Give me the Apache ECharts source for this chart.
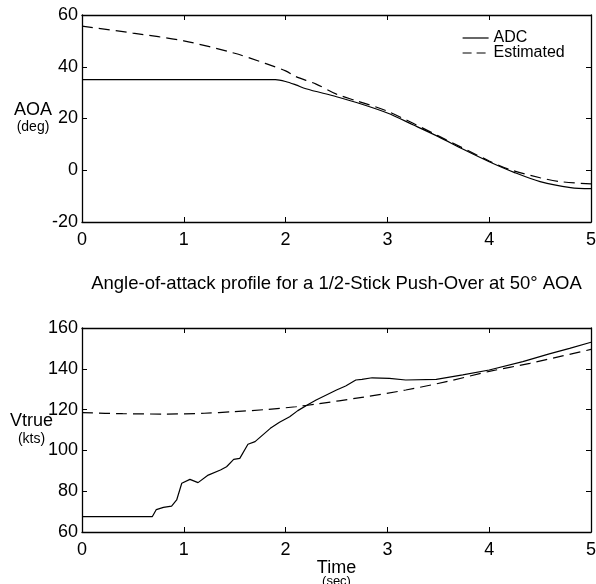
<!DOCTYPE html>
<html>
<head>
<meta charset="utf-8">
<script src="https://cdn.jsdelivr.net/npm/echarts@6/dist/echarts.min.js"></script>
<style>
  html, body { margin: 0; background: #fff; }
  #chart { width: 596px; height: 584px; }
</style>
</head>
<body>
<div id="chart"></div>
<script>
// 上图：攻角 (deg)
const aoaAdcTime = [0, 1.9, 2.0, 2.1, 2.2, 2.5, 2.75, 3.0, 3.25, 3.5, 3.75, 4.0, 4.25, 4.5, 4.8, 5.0]
const aoaAdc = [35, 35, 34.3, 33, 31.5, 28.4, 25.5, 22.1, 17.6, 13, 8, 3.3, -0.9, -4.4, -6.7, -7.1]
const aoaEstTime = [0, 0.5, 1.0, 1.5, 1.8, 2.0, 2.1, 2.3, 2.5, 2.7, 3.0, 3.5, 4.0, 4.2, 4.5, 4.7, 5.0]
const aoaEst = [55.7, 53, 50, 45.2, 41.3, 38.4, 36.2, 33.3, 29.4, 26.8, 22.8, 13.3, 3.6, 0.3, -2.9, -4.4, -5.3]

// 下图：真空速 (kts)
const vAdcTime = [0, 0.69, 0.73, 0.8, 0.88, 0.93, 0.98, 1.06, 1.14, 1.24, 1.36, 1.42, 1.49, 1.55, 1.63, 1.70,
  1.85, 1.94, 2.04, 2.12, 2.23, 2.30, 2.5, 2.59, 2.69, 2.75, 2.85, 3.02, 3.18, 3.48, 3.74, 4.0, 4.33, 4.59, 4.79, 5.0]
const vAdc = [67.5, 67.5, 71, 72.1, 72.7, 75.7, 83.9, 85.8, 84.2, 87.9, 90.4, 92, 95.6, 96.1, 103, 104.3,
  110.8, 113.8, 116.5, 119.5, 122.7, 124.7, 129.6, 131.6, 134.5, 134.8, 135.6, 135.3, 134.5, 134.8, 137, 139.4, 143.5, 147.3, 150, 153]
const vEstTime = [0, 0.4, 0.82, 1.2, 1.49, 1.8, 2.1, 2.3, 2.75, 3.18, 3.58, 4.0, 4.4, 4.72, 5.0]
const vEst = [118.5, 118, 117.8, 118.2, 119, 120, 121.4, 122.7, 126, 129.6, 133.7, 138.7, 142.7, 146.3, 149.5]

const xTicks = [0, 5, 1]
const aoaTicks = [-20, 60, 20]
const vTicks = [60, 160, 20]

const FONT = "'Liberation Sans', Arial, sans-serif"
const DASH = [11, 6]
const zip = (xs, ys) => xs.map((x, i) => [x, ys[i]])

const chart = echarts.init(document.getElementById('chart'))

// 坐标轴公共样式（MATLAB 风格：框线 + 内刻度）
const axisBase = (extra) => Object.assign({
  type: 'value',
  nameMoveOverlap: false,
  axisLine: { show: true, onZero: false, lineStyle: { color: '#000', width: 1.3 } },
  axisTick: { show: true, inside: true, length: 5, lineStyle: { color: '#000', width: 1 } },
  splitLine: { show: false },
  axisLabel: { show: false }
}, extra)

const yLabel = { show: true, color: '#000', fontSize: 18, fontFamily: FONT, margin: 4 }
const xLabel = { show: true, color: '#000', fontSize: 18, fontFamily: FONT, margin: 9 }

const lineSeries = (name, data, xi, yi, dashed, smooth) => ({
  name: name,
  type: 'line',
  xAxisIndex: xi,
  yAxisIndex: yi,
  data: data,
  symbol: 'none',
  smooth: smooth,
  lineStyle: { color: '#000', width: 1.2, type: dashed ? DASH : 'solid' },
  itemStyle: { color: '#000' }
})

const option = {
  backgroundColor: '#fff',
  animation: false,
  legend: {
    data: [
      { name: 'ADC', lineStyle: { color: '#000', width: 1.2, type: 'solid' } },
      { name: 'Estimated', lineStyle: { color: '#000', width: 1.2, type: [9, 5] } }
    ],
    orient: 'vertical',
    left: 462,
    top: 30,
    padding: 0,
    itemWidth: 26,
    itemHeight: 12,
    itemGap: -1,
    itemStyle: { opacity: 0 },
    textStyle: { color: '#000', fontSize: 16, fontFamily: FONT, lineHeight: 12 }
  },
  grid: [
    { left: 82, top: 15, width: 509, height: 207, outerBoundsMode: 'none' },
    { left: 82, top: 328, width: 509, height: 204, outerBoundsMode: 'none' }
  ],
  xAxis: [
    axisBase({
      gridIndex: 0, position: 'bottom', min: xTicks[0], max: xTicks[1], interval: xTicks[2],
      axisLabel: xLabel,
      name: 'Angle-of-attack profile for a 1/2-Stick Push-Over at 50° AOA',
      nameLocation: 'middle', nameGap: 52,
      nameTextStyle: { color: '#000', fontSize: 18.5, fontFamily: FONT }
    }),
    axisBase({ gridIndex: 0, position: 'top', min: xTicks[0], max: xTicks[1], interval: xTicks[2] }),
    axisBase({
      gridIndex: 1, position: 'bottom', min: xTicks[0], max: xTicks[1], interval: xTicks[2],
      axisLabel: xLabel,
      name: '{t|Time}\n{s|(sec)}',
      nameLocation: 'middle', nameGap: 29,
      nameTextStyle: {
        color: '#000', fontFamily: FONT,
        rich: {
          t: { fontSize: 18, lineHeight: 15, align: 'center', fontFamily: FONT },
          s: { fontSize: 13, lineHeight: 10, align: 'center', fontFamily: FONT }
        }
      }
    }),
    axisBase({ gridIndex: 1, position: 'top', min: xTicks[0], max: xTicks[1], interval: xTicks[2] })
  ],
  yAxis: [
    axisBase({
      gridIndex: 0, position: 'left', min: aoaTicks[0], max: aoaTicks[1], interval: aoaTicks[2],
      axisLabel: yLabel,
      name: '{a|AOA}\n{b|(deg)}',
      nameLocation: 'middle', nameRotate: 0, nameGap: 30,
      nameTextStyle: {
        color: '#000', fontFamily: FONT,
        rich: {
          a: { fontSize: 18, lineHeight: 18, align: 'center', fontFamily: FONT },
          b: { fontSize: 14, lineHeight: 16, align: 'center', fontFamily: FONT }
        }
      }
    }),
    axisBase({ gridIndex: 0, position: 'right', min: aoaTicks[0], max: aoaTicks[1], interval: aoaTicks[2] }),
    axisBase({
      gridIndex: 1, position: 'left', min: vTicks[0], max: vTicks[1], interval: vTicks[2],
      axisLabel: yLabel,
      name: '{a|Vtrue}\n{b|(kts)}',
      nameLocation: 'middle', nameRotate: 0, nameGap: 29,
      nameTextStyle: {
        color: '#000', fontFamily: FONT,
        rich: {
          a: { fontSize: 18, lineHeight: 18, align: 'center', fontFamily: FONT },
          b: { fontSize: 14, lineHeight: 18, align: 'center', fontFamily: FONT }
        }
      }
    }),
    axisBase({ gridIndex: 1, position: 'right', min: vTicks[0], max: vTicks[1], interval: vTicks[2] })
  ],
  series: [
    lineSeries('ADC', zip(aoaAdcTime, aoaAdc), 0, 0, false, 0.3),
    lineSeries('Estimated', zip(aoaEstTime, aoaEst), 0, 0, true, 0.3),
    lineSeries('ADC', zip(vAdcTime, vAdc), 2, 2, false, false),
    lineSeries('Estimated', zip(vEstTime, vEst), 2, 2, true, 0.3)
  ]
}

chart.setOption(option)
</script>
</body>
</html>
